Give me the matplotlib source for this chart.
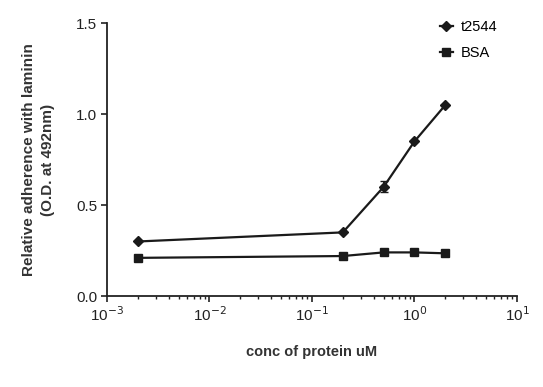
import matplotlib
matplotlib.use("Agg")
import matplotlib.pyplot as plt
from matplotlib.ticker import LogLocator, FixedLocator

plt.rcParams['font.family'] = ['Liberation Sans', 'DejaVu Sans']

conc = [0.002, 0.2, 0.5, 1.0, 2.0]
t2544 = [0.30, 0.35, 0.60, 0.85, 1.05]
t2544_err = [0.0, 0.0, 0.03, 0.0, 0.0]
bsa = [0.21, 0.22, 0.24, 0.24, 0.235]
series_names = ["t2544", "BSA"]
x_ticks = [1e-3, 1e-2, 1e-1, 1e0, 1e1]
x_tick_labels = ["10$^{-3}$", "10$^{-2}$", "10$^{-1}$", "10$^{0}$", "10$^{1}$"]
y_ticks = [0.0, 0.5, 1.0, 1.5]

fig = plt.figure(figsize=(5.43, 3.87), dpi=100)
ax = fig.add_axes([0.197, 0.235, 0.755, 0.705])

ink = "#1a1a1a"
h1, = ax.plot(conc, t2544, color=ink, lw=1.6, marker="D", ms=5.5,
              label=series_names[0])
ax.errorbar(conc, t2544, yerr=t2544_err, fmt="none", ecolor=ink,
            capsize=3, elinewidth=1.4)
h2, = ax.plot(conc, bsa, color=ink, lw=1.6, marker="s", ms=5.5,
              label=series_names[1])

ax.set_xscale("log")
ax.set_xlim(1e-3, 1e1)
ax.set_ylim(0, 1.5)
ax.xaxis.set_major_locator(FixedLocator(x_ticks))
ax.set_xticklabels(x_tick_labels)
ax.xaxis.set_minor_locator(LogLocator(base=10, subs=range(2, 10)))
ax.set_yticks(y_ticks)
ax.set_yticklabels([f"{v:.1f}" for v in y_ticks])

for s in ["top", "right"]:
    ax.spines[s].set_visible(False)
for s in ["left", "bottom"]:
    ax.spines[s].set_linewidth(1.3)
    ax.spines[s].set_color("#222222")

ax.tick_params(axis="both", which="major", length=4, width=1.2,
               labelsize=11, colors="#222222", pad=3)
ax.tick_params(axis="x", which="minor", length=2.5, width=1.0, colors="#222222")

ax.set_ylabel("Relative adherence with laminin\n(O.D. at 492nm)",
              fontsize=11, fontweight="bold", color="#333333", labelpad=15,
              linespacing=1.5)
ax.set_xlabel("conc of protein uM", fontsize=10.5, fontweight="bold",
              color="#333333", labelpad=15)

ax.legend(handles=[h1, h2], loc="upper left", bbox_to_anchor=(0.78, 1.06),
          frameon=False, fontsize=10.5, handlelength=0.9, handletextpad=0.5,
          labelspacing=0.8)

fig.savefig("out.png", dpi=100)
